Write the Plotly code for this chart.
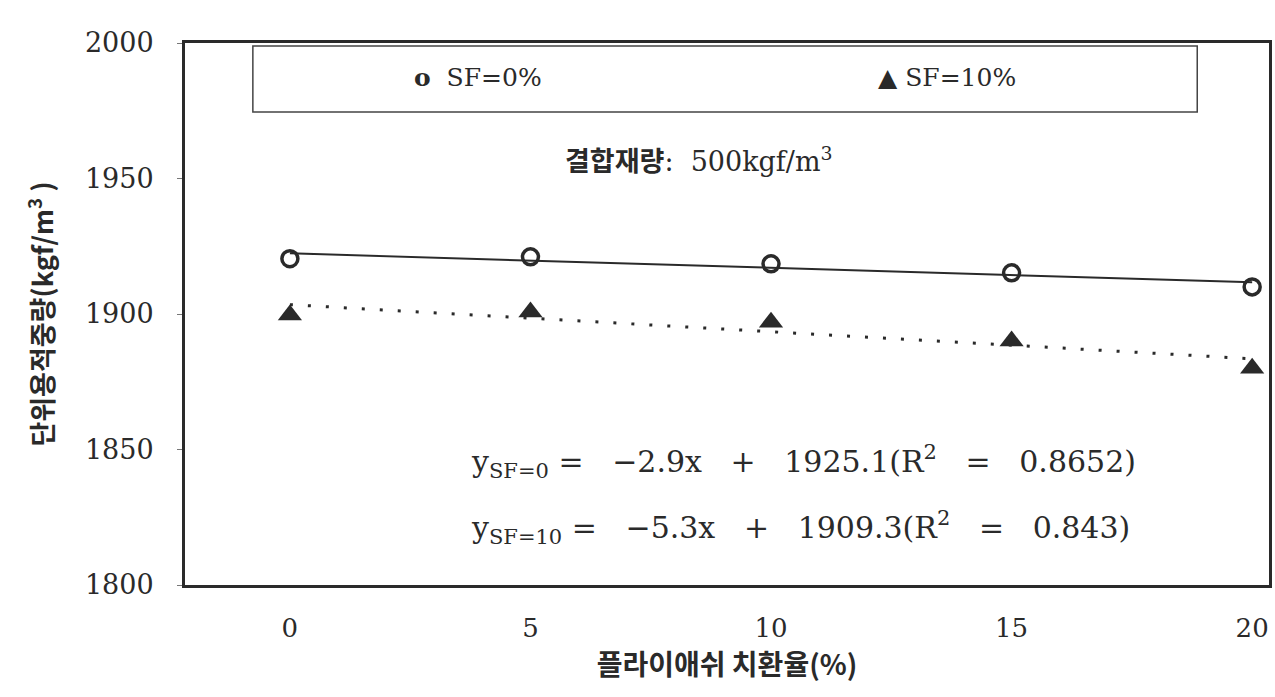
import numpy as np
import plotly.graph_objects as go

# Fly-ash replacement ratio (%) and unit weight (kgf/m^3)
replacement = [0, 5, 10, 15, 20]
unit_weight_sf0 = [1920.4, 1921.1, 1918.5, 1915.2, 1910.0]
unit_weight_sf10 = [1899.6, 1900.7, 1897.0, 1890.0, 1880.0]

y_ticks = [1800, 1850, 1900, 1950, 2000]
x_ticks = [0, 5, 10, 15, 20]

ink = "#2a2a2a"
serif = "DejaVu Serif"
kr = "Noto Sans CJK KR"
mixed = "DejaVu Serif, Noto Sans CJK KR"

# least-squares trend lines
x_arr = np.array(replacement, dtype=float)
fit0 = np.polyval(np.polyfit(x_arr, unit_weight_sf0, 1), x_arr)
fit10 = np.polyval(np.polyfit(x_arr, unit_weight_sf10, 1), x_arr)

fig = go.Figure()
fig.add_trace(go.Scatter(x=replacement, y=fit0, mode="lines",
                         line=dict(color=ink, width=2), showlegend=False))
fig.add_trace(go.Scatter(x=replacement, y=fit10, mode="lines",
                         line=dict(color=ink, width=3, dash="3px,15px"),
                         showlegend=False))
fig.add_trace(go.Scatter(x=replacement, y=unit_weight_sf0, mode="markers",
                         marker=dict(symbol="circle-open", size=16, color=ink,
                                     line=dict(width=3.5, color=ink)),
                         showlegend=False))
fig.add_trace(go.Scatter(x=replacement, y=unit_weight_sf10, mode="markers",
                         marker=dict(symbol="triangle-up", size=21, color=ink),
                         showlegend=False))


def note(x, y, text, font, xanchor="center"):
    fig.add_annotation(xref="paper", yref="paper", x=x, y=y, text=text,
                       xanchor=xanchor, yanchor="middle", showarrow=False,
                       font=font)


# legend frame and entries
fig.add_shape(type="rect", xref="paper", yref="paper",
              x0=0.0626, x1=0.9338, y0=0.8725, y1=0.9945,
              line=dict(color="#444", width=1.5), fillcolor="white", layer="below")
note(0.209, 0.936, "<b>o</b>  SF=0%", dict(family=serif, size=25, color=ink), "left")
note(0.637, 0.936, "▲ SF=10%", dict(family=serif, size=25, color=ink), "left")

note(0.474, 0.785, "<b>결합재량</b>:  500kgf/m<sup>3</sup>",
     dict(family=mixed, size=27, color=ink))

note(0.262, 0.227,
     "y<sub>SF=0</sub> =   −2.9x   +   1925.1(R<sup>2</sup>   =   0.8652)",
     dict(family=serif, size=30, color=ink), "left")
note(0.262, 0.107,
     "y<sub>SF=10</sub> =   −5.3x   +   1909.3(R<sup>2</sup>   =   0.843)",
     dict(family=serif, size=30, color=ink), "left")

fig.update_xaxes(range=[-2.18, 20.35], tickvals=x_ticks,
                 ticktext=[str(v) for v in x_ticks],
                 showgrid=False, zeroline=False, showline=True, mirror=True,
                 linecolor=ink, linewidth=3, ticks="", ticklabelstandoff=18,
                 tickfont=dict(family=serif, size=26, color=ink),
                 title=dict(text="<b>플라이애쉬 치환율(%)</b>", standoff=12,
                            font=dict(family=kr, size=28, color=ink)))
fig.update_yaxes(range=[1800, 2000], tickvals=y_ticks,
                 ticktext=[str(v) for v in y_ticks],
                 showgrid=False, zeroline=False, showline=True, mirror=True,
                 linecolor=ink, linewidth=3, ticks="outside", ticklen=5,
                 tickcolor="#777", tickwidth=1, ticklabelstandoff=18,
                 tickfont=dict(family=serif, size=27, color=ink),
                 title=dict(text="<b>단위용적중량(kgf/m<sup>3</sup> )</b>", standoff=24,
                            font=dict(family=kr, size=27, color=ink)))

fig.update_layout(width=1275, height=697,
                  margin=dict(l=185, r=3, t=43, b=112),
                  paper_bgcolor="white", plot_bgcolor="white")

fig.write_html("out.html")
